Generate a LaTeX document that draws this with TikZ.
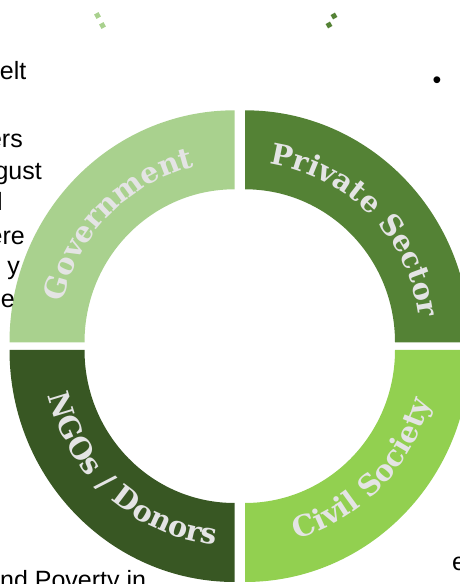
\documentclass[tikz,border=0pt]{standalone}
\usepackage{fontspec}
\setmainfont{Liberation Sans}
\newfontfamily\ringfont{DejaVu Serif}
\usetikzlibrary{decorations.text}

\definecolor{govgreen}{HTML}{A9D18E}
\definecolor{privgreen}{HTML}{548235}
\definecolor{ngogreen}{HTML}{385723}
\definecolor{civgreen}{HTML}{92D050}
\definecolor{ringtext}{HTML}{E4E4E4}

\begin{document}
\begin{tikzpicture}[x=1pt,y=1pt,
  frag/.style={font=\fontsize{25}{30}\selectfont, inner sep=0pt},
  dotsq/.style={minimum size=5pt, inner sep=0pt, rotate=30},
  ringlabel/.style={decorate, decoration={text along path, text align=center,
    text={|\ringfont\bfseries\fontsize{29}{31}\selectfont\color{ringtext}|#1}}}]
  \useasboundingbox (0,0) rectangle (460,584);
  \clip (0,0) rectangle (460,584);

  \coordinate (gc) at (234.5,241.7);
  \coordinate (pc) at (245,241.7);
  \coordinate (nc) at (234.5,234);
  \coordinate (cc) at (245,234);

  % quadrants
  \fill[govgreen]  (gc) ++(-225,0) arc[start angle=180, end angle=90, x radius=225, y radius=232]
                   -- ++(0,-79) arc[start angle=90, end angle=180, x radius=150, y radius=153] -- cycle;
  \fill[privgreen] (pc) ++(0,232) arc[start angle=90, end angle=0, x radius=225, y radius=232]
                   -- ++(-75,0) arc[start angle=0, end angle=90, x radius=150, y radius=153] -- cycle;
  \fill[ngogreen]  (nc) ++(-225,0) arc[start angle=180, end angle=270, x radius=225, y radius=232]
                   -- ++(0,79) arc[start angle=270, end angle=180, x radius=150, y radius=153] -- cycle;
  \fill[civgreen]  (cc) ++(0,-232) arc[start angle=270, end angle=360, x radius=225, y radius=232]
                   -- ++(-75,0) arc[start angle=360, end angle=270, x radius=150, y radius=153] -- cycle;

  % labels on the ring
  \path[ringlabel=Government]       (gc) ++(-176,0) arc[start angle=180, end angle=90, x radius=176, y radius=180];
  \path[ringlabel={Private Sector}] (pc) ++(0,180) arc[start angle=90, end angle=0, x radius=176, y radius=180];
  \path[ringlabel={NGOs / Donors}]  (nc) ++(184:192 and 196) arc[start angle=184, end angle=274, x radius=192, y radius=196];
  \path[ringlabel={Civil Society}]  (cc) ++(0,-196) arc[start angle=270, end angle=360, x radius=192, y radius=196];

  % cut text around the ring
  \node[frag, anchor=base east] (elt)     at (26.5,504) {elt};
  \node[frag, anchor=base east] (ers)     at (23,436)   {ers};
  \node[frag, anchor=base east] (gust)    at (42,404)   {gust};
  \node[frag, anchor=base east] (ell)     at (3,373)    {l};
  \node[frag, anchor=base east] (ere)     at (25,339)   {ere};
  \node[frag, anchor=base east] (wy)      at (20,309)   {y};
  \node[frag, anchor=base east] (we)      at (15,276)   {e};
  \node[frag, anchor=base west] (poverty) at (0,-5)     {nd Poverty in};
  \node[frag, anchor=base west] (ee)      at (452,13)   {e};
  \node[frag]                   (bullet)  at (437,501)  {•};

  \node[dotsq, fill=govgreen]  (gdot1) at (97.5,568.5) {};
  \node[dotsq, fill=govgreen]  (gdot2) at (102.5,558.5) {};
  \node[dotsq, fill=privgreen] (pdot1) at (334,568) {};
  \node[dotsq, fill=privgreen] (pdot2) at (329,559) {};
\end{tikzpicture}
\end{document}
